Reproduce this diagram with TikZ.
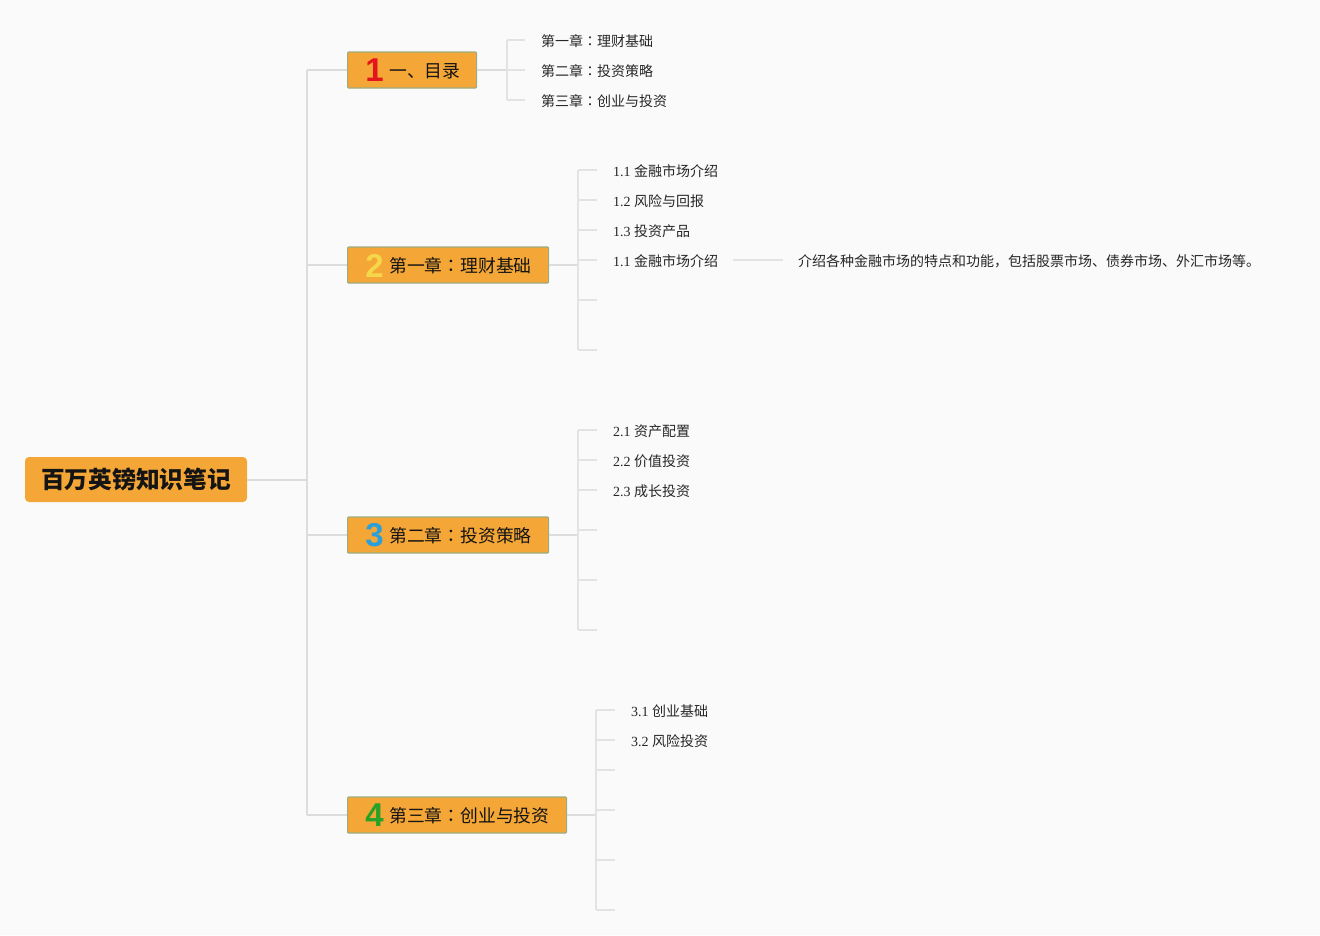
\documentclass[tikz,border=0pt]{standalone}
\usepackage{fontspec}
\setmainfont{Liberation Serif}
\newfontfamily\cjk{Noto Sans CJK SC}
\newfontfamily\cjkjp{Noto Sans CJK JP}
\newfontfamily\digf{Liberation Sans}
\newcommand\zh[1]{{\cjk #1}}
\newcommand\cc{{\cjkjp ：}}
\definecolor{bggray}{HTML}{FAFAFA}
\definecolor{orangefill}{HTML}{F4A636}
\definecolor{boxborder}{HTML}{9DAC80}
\definecolor{linegray}{HTML}{DCDCDC}
\definecolor{linegraytwo}{HTML}{E3E3E3}
\definecolor{textdark}{HTML}{141414}
\definecolor{textmid}{HTML}{262626}
\definecolor{digred}{HTML}{E3141C}
\definecolor{digyellow}{HTML}{F6D74A}
\definecolor{digblue}{HTML}{2B9FD9}
\definecolor{diggreen}{HTML}{27A127}
\tikzset{
  conn/.style={draw=linegray, line width=2pt},
  subconn/.style={draw=linegraytwo, line width=1.5pt},
  rootbox/.style={fill=orangefill, rounded corners=4pt, minimum width=222pt, minimum height=45pt, inner sep=0pt, font={\cjk\bfseries\fontsize{23.7}{26}\selectfont}, text=textdark},
  branchbox/.style={fill=orangefill, draw=boxborder, line width=1.2pt, minimum height=36pt, inner sep=0pt, anchor=west, rounded corners=1pt},
  digit/.style={font={\digf\bfseries\fontsize{33}{34}\selectfont}, inner sep=0pt},
  blabel/.style={font={\cjk\fontsize{17.8}{20}\selectfont}, text=textdark, inner sep=0pt, anchor=west},
  leaf/.style={font={\fontsize{14}{16}\selectfont}, text=textmid, inner sep=0pt, anchor=west},
  leafzh/.style={leaf, font={\cjk\fontsize{14}{16}\selectfont}},
}
\begin{document}
\begin{tikzpicture}[x=1pt,y=-1pt]
\useasboundingbox (0,0) rectangle (1320,935);
\fill[bggray] (0,0) rectangle (1320,935);

% root
\node[rootbox] (root) at (136,479.5) {百万英镑知识笔记};

% branch boxes
\node[branchbox, minimum width=129pt] (b1) at (347,70) {};
\node[branchbox, minimum width=201pt] (b2) at (347,265) {};
\node[branchbox, minimum width=201pt] (b3) at (347,535) {};
\node[branchbox, minimum width=219pt] (b4) at (347,815) {};

\node[digit, text=digred] (d1) at (374.5,70.5) {1};
\node[digit, text=digyellow] (d2) at (374.5,265.5) {2};
\node[digit, text=digblue] (d3) at (374.5,535.5) {3};
\node[digit, text=diggreen] (d4) at (374.5,815.5) {4};

\node[blabel] (t1) at (389,71) {一、目录};
\node[blabel] (t2) at (389,266) {第一章\cc 理财基础};
\node[blabel] (t3) at (389,536) {第二章\cc 投资策略};
\node[blabel] (t4) at (389,816) {第三章\cc 创业与投资};

% trunk
\coordinate (j0) at (307,480);
\coordinate (j1) at (307,70);
\coordinate (j2) at (307,265);
\coordinate (j3) at (307,535);
\coordinate (j4) at (307,815);
\draw[conn] (root.east |- j0) -- (j0);
\draw[conn] (j1) -- (j4);
\draw[conn] (j1) -- (b1.west);
\draw[conn] (j2) -- (b2.west);
\draw[conn] (j3) -- (b3.west);
\draw[conn] (j4) -- (b4.west);

% branch 1 children
\coordinate (k1) at (507,70);
\coordinate (k1t) at (507,40);
\coordinate (k1b) at (507,100);
\node[leafzh] (c11) at (541,41) {第一章\cc 理财基础};
\node[leafzh] (c12) at (541,71) {第二章\cc 投资策略};
\node[leafzh] (c13) at (541,101) {第三章\cc 创业与投资};
\draw[conn] (b1.east) -- (k1);
\draw[subconn] (k1t) -- (k1b);
\draw[subconn, shorten >=16pt] (k1t) -- (c11.west |- k1t);
\draw[subconn, shorten >=16pt] (k1) -- (c12.west |- k1);
\draw[subconn, shorten >=16pt] (k1b) -- (c13.west |- k1b);

% branch 2 children
\coordinate (k2) at (578,265);
\coordinate (k2t) at (578,170);
\coordinate (k2b) at (578,350);
\coordinate (s21) at (578,170);
\coordinate (s22) at (578,200);
\coordinate (s23) at (578,230);
\coordinate (s24) at (578,260);
\coordinate (e25) at (597,300);
\coordinate (e26) at (597,350);
\node[leaf] (c21) at (613,171) {1.1 \zh{金融市场介绍}};
\node[leaf] (c22) at (613,201) {1.2 \zh{风险与回报}};
\node[leaf] (c23) at (613,231) {1.3 \zh{投资产品}};
\node[leaf] (c24) at (613,261) {1.1 \zh{金融市场介绍}};
\node[leafzh] (c24d) at (798,261) {介绍各种金融市场的特点和功能，包括股票市场、债券市场、外汇市场等。};
\draw[conn] (b2.east) -- (k2);
\draw[subconn] (k2t) -- (k2b);
\draw[subconn, shorten >=16pt] (s21) -- (c21.west |- s21);
\draw[subconn, shorten >=16pt] (s22) -- (c22.west |- s22);
\draw[subconn, shorten >=16pt] (s23) -- (c23.west |- s23);
\draw[subconn, shorten >=16pt] (s24) -- (c24.west |- s24);
\draw[subconn] (e25 -| k2) -- (e25);
\draw[subconn] (e26 -| k2) -- (e26);
\draw[subconn, shorten <=15pt, shorten >=15pt] (c24.east |- s24) -- (c24d.west |- s24);

% branch 3 children
\coordinate (k3) at (578,535);
\coordinate (k3t) at (578,430);
\coordinate (k3b) at (578,630);
\coordinate (s31) at (578,430);
\coordinate (s32) at (578,460);
\coordinate (s33) at (578,490);
\coordinate (e34) at (597,530);
\coordinate (e35) at (597,580);
\coordinate (e36) at (597,630);
\node[leaf] (c31) at (613,431) {2.1 \zh{资产配置}};
\node[leaf] (c32) at (613,461) {2.2 \zh{价值投资}};
\node[leaf] (c33) at (613,491) {2.3 \zh{成长投资}};
\draw[conn] (b3.east) -- (k3);
\draw[subconn] (k3t) -- (k3b);
\draw[subconn, shorten >=16pt] (s31) -- (c31.west |- s31);
\draw[subconn, shorten >=16pt] (s32) -- (c32.west |- s32);
\draw[subconn, shorten >=16pt] (s33) -- (c33.west |- s33);
\foreach \e in {e34,e35,e36} \draw[subconn] (\e -| k3) -- (\e);

% branch 4 children
\coordinate (k4) at (596,815);
\coordinate (k4t) at (596,710);
\coordinate (k4b) at (596,910);
\coordinate (s41) at (596,710);
\coordinate (s42) at (596,740);
\coordinate (e43) at (615,770);
\coordinate (e44) at (615,810);
\coordinate (e45) at (615,860);
\coordinate (e46) at (615,910);
\node[leaf] (c41) at (631,711) {3.1 \zh{创业基础}};
\node[leaf] (c42) at (631,741) {3.2 \zh{风险投资}};
\draw[conn] (b4.east) -- (k4);
\draw[subconn] (k4t) -- (k4b);
\draw[subconn, shorten >=16pt] (s41) -- (c41.west |- s41);
\draw[subconn, shorten >=16pt] (s42) -- (c42.west |- s42);
\foreach \e in {e43,e44,e45,e46} \draw[subconn] (\e -| k4) -- (\e);
\end{tikzpicture}
\end{document}
